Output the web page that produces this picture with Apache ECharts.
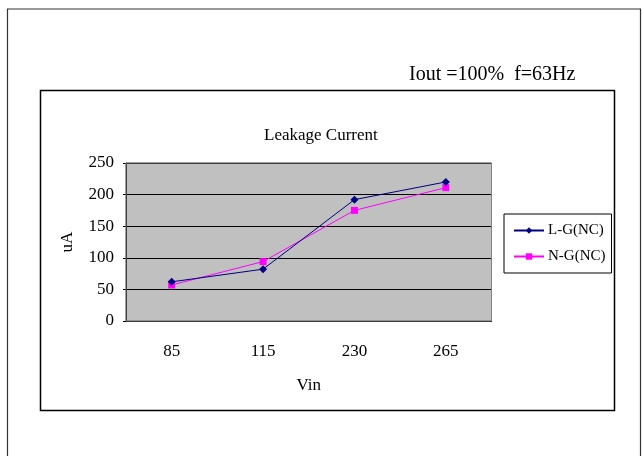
<!DOCTYPE html>
<html>
<head>
<meta charset="utf-8">
<script src="https://cdn.jsdelivr.net/npm/echarts@6/dist/echarts.min.js"></script>
<style>
html,body{margin:0;padding:0;background:#fff;}
#c{width:642px;height:456px;}
</style>
</head>
<body>
<div id="c"></div>
<script>
const categories = ['85', '115', '230', '265'];
const seriesLG = [62, 82, 192, 220];
const seriesNG = [57, 94, 175, 211];
const yTicks = [0, 50, 100, 150, 200, 250];
const chartTitle = 'Leakage Current';
const noteText = 'Iout =100%  f=63Hz';

const FONT = '"Liberation Serif", "DejaVu Serif", serif';
const chart = echarts.init(document.getElementById('c'));
chart.setOption({
  animation: false,
  backgroundColor: '#ffffff',
  textStyle: { fontFamily: FONT },
  graphic: [
    { type: 'rect', shape: { x: 7.5, y: 9, width: 633, height: 460 }, style: { fill: 'none', stroke: '#333', lineWidth: 1.2 }, z: 0 },
    { type: 'rect', shape: { x: 40.5, y: 90.5, width: 574, height: 320 }, style: { fill: 'none', stroke: '#000', lineWidth: 1.5 }, z: 0 },
    { type: 'text', left: 409, top: 65, style: { text: noteText, font: '20px ' + FONT, fill: '#000' } },
    { type: 'rect', shape: { x: 126, y: 163, width: 365.5, height: 158 }, style: { fill: 'none', stroke: '#808080', lineWidth: 1 }, z: 1 }
  ],
  title: {
    text: chartTitle,
    left: 259, top: 122,
    textStyle: { fontFamily: FONT, fontSize: 17, fontWeight: 'normal', color: '#000' }
  },
  legend: {
    orient: 'vertical',
    left: 504, top: 214,
    padding: [9, 6, 9, 9],
    itemGap: 11,
    itemWidth: 30, itemHeight: 8,
    borderColor: '#000', borderWidth: 1,
    backgroundColor: '#fff',
    textStyle: { fontFamily: FONT, fontSize: 15, color: '#000', padding: [0, 0, 0, -1] },
    data: ['L-G(NC)', 'N-G(NC)']
  },
  grid: { left: 126, top: 163, width: 365.5, height: 158, show: true, backgroundColor: '#c0c0c0', borderColor: '#808080', borderWidth: 1 },
  xAxis: {
    type: 'category',
    data: categories,
    boundaryGap: true,
    name: 'Vin', nameLocation: 'middle', nameGap: 56,
    nameTextStyle: { fontFamily: FONT, fontSize: 17, color: '#000' },
    axisLine: { lineStyle: { color: '#000', width: 1 } },
    axisTick: { inside: true, length: 5, lineStyle: { color: '#000' } },
    axisLabel: { fontFamily: FONT, fontSize: 17, color: '#000', margin: 22 },
    splitLine: { show: false }
  },
  yAxis: {
    type: 'value',
    min: 0, max: 250, interval: 50,
    name: 'uA', nameLocation: 'middle', nameGap: 50, nameRotate: 90,
    nameTextStyle: { fontFamily: FONT, fontSize: 17, color: '#000' },
    axisLine: { show: true, lineStyle: { color: '#000', width: 1 } },
    axisTick: { show: true, length: 3, lineStyle: { color: '#000' } },
    axisLabel: { fontFamily: FONT, fontSize: 17, color: '#000', margin: 12,
      formatter: v => yTicks.includes(v) ? String(v) : '' },
    splitLine: { show: true, lineStyle: { color: '#000', width: 1 } }
  },
  series: [
    {
      name: 'L-G(NC)', type: 'line', data: seriesLG,
      symbol: 'diamond', symbolSize: 8,
      lineStyle: { color: '#000080', width: 1 },
      itemStyle: { color: '#000080' },
      z: 3
    },
    {
      name: 'N-G(NC)', type: 'line', data: seriesNG,
      symbol: 'rect', symbolSize: 7,
      lineStyle: { color: '#ff00ff', width: 1 },
      itemStyle: { color: '#ff00ff' },
      z: 2
    }
  ]
});
</script>
</body>
</html>
